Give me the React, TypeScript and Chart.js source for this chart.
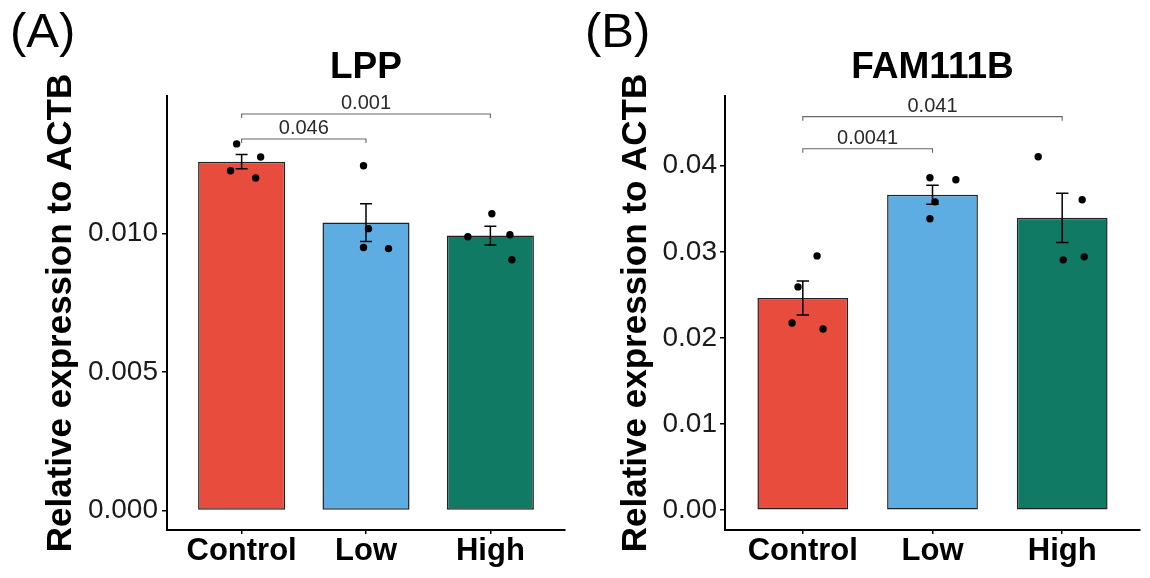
import React, { useEffect, useRef } from 'react';
import { Chart, registerables } from 'chart.js';

Chart.register(...registerables);
Chart.defaults.font.family = "'Liberation Sans', Arial, Helvetica, sans-serif";

// ---------- data ----------
const categories = ['Control', 'Low', 'High'];
const barColors = ['#E74C3C', '#5DADE2', '#117A65'];
const yAxisTitle = 'Relative expression to ACTB';

// Panel A: LPP
const lppTitle = 'LPP';
const lppMeans = [0.0126, 0.0104, 0.00993];
const lppSE = [0.00026, 0.00068, 0.00034];
const lppPoints = [
  [0.01324, 0.01277, 0.01227, 0.01201],
  [0.01245, 0.01018, 0.0095, 0.00946],
  [0.01072, 0.00989, 0.00996, 0.00906],
];
const lppJitter = [
  [-0.04, 0.153, -0.089, 0.113],
  [-0.02, 0.02, -0.02, 0.181],
  [0.012, -0.181, 0.157, 0.173],
];
const lppYTicks = [0, 0.005, 0.01];
const lppYRange = [-0.0007, 0.01497];
const lppBrackets = [
  { from: 0, to: 1, y: 0.01342, label: '0.046' },
  { from: 0, to: 2, y: 0.01432, label: '0.001' },
];

// Panel B: FAM111B
const famTitle = 'FAM111B';
const famMeans = [0.02465, 0.03663, 0.03395];
const famSE = [0.00197, 0.0011, 0.00285];
const famPoints = [
  [0.02953, 0.02593, 0.02174, 0.02105],
  [0.0386, 0.03837, 0.03581, 0.03384],
  [0.04105, 0.03605, 0.02942, 0.02907],
];
const famJitter = [
  [0.11, -0.037, -0.083, 0.156],
  [-0.02, 0.18, 0.02, -0.02],
  [-0.185, 0.154, 0.17, 0.008],
];
const famYTicks = [0, 0.01, 0.02, 0.03, 0.04];
const famYRange = [-0.0023, 0.0481];
const famBrackets = [
  { from: 0, to: 1, y: 0.04198, label: '0.0041' },
  { from: 0, to: 2, y: 0.0457, label: '0.041' },
];

type Bracket = { from: number; to: number; y: number; label: string };
type PanelCfg = {
  title: string;
  means: number[];
  se: number[];
  points: number[][];
  jitter: number[][];
  yTicks: number[];
  yRange: number[];
  decimals: number;
  brackets: Bracket[];
  yWidth: number;
  tickPad: number;
};

const panels: PanelCfg[] = [
  { title: lppTitle, means: lppMeans, se: lppSE, points: lppPoints, jitter: lppJitter, yTicks: lppYTicks, yRange: lppYRange, decimals: 3, brackets: lppBrackets, yWidth: 167, tickPad: 4 },
  { title: famTitle, means: famMeans, se: famSE, points: famPoints, jitter: famJitter, yTicks: famYTicks, yRange: famYRange, decimals: 2, brackets: famBrackets, yWidth: 150, tickPad: 3 },
];

function makeErrorBarPlugin(cfg: PanelCfg, barIndex: number) {
  return {
    id: 'errbars',
    afterDatasetDraw(chart: any, args: any) {
      if (args.index !== barIndex) return;
      const { ctx, scales } = chart;
      const xs = scales.x;
      const ys = scales.y;
      ctx.save();
      ctx.strokeStyle = '#000';
      ctx.lineWidth = 1.5;
      cfg.means.forEach((m, i) => {
        const x = xs.getPixelForValue(i);
        const half = Math.abs(xs.getPixelForValue(i + 0.048) - x);
        const yTop = ys.getPixelForValue(m + cfg.se[i]);
        const yBot = ys.getPixelForValue(m - cfg.se[i]);
        ctx.beginPath();
        ctx.moveTo(x, yTop);
        ctx.lineTo(x, yBot);
        ctx.moveTo(x - half, yTop);
        ctx.lineTo(x + half, yTop);
        ctx.moveTo(x - half, yBot);
        ctx.lineTo(x + half, yBot);
        ctx.stroke();
      });
      ctx.restore();
    },
  };
}

function makeBracketPlugin(cfg: PanelCfg) {
  return {
    id: 'brackets',
    afterDraw(chart: any) {
      const { ctx, scales } = chart;
      const xs = scales.x;
      const ys = scales.y;
      ctx.save();
      cfg.brackets.forEach((b) => {
        const x1 = xs.getPixelForValue(b.from);
        const x2 = xs.getPixelForValue(b.to);
        const y = ys.getPixelForValue(b.y);
        ctx.strokeStyle = '#666';
        ctx.lineWidth = 1.1;
        ctx.beginPath();
        ctx.moveTo(x1, y + 4);
        ctx.lineTo(x1, y);
        ctx.lineTo(x2, y);
        ctx.lineTo(x2, y + 4);
        ctx.stroke();
        ctx.fillStyle = '#2a2a2a';
        ctx.font = "20px 'Liberation Sans', Arial, sans-serif";
        ctx.textAlign = 'center';
        ctx.textBaseline = 'alphabetic';
        ctx.fillText(b.label, (x1 + x2) / 2, y - 5);
      });
      ctx.restore();
    },
  };
}

function Panel({ cfg, left, tag }: { cfg: PanelCfg; left: number; tag: string }) {
  const ref = useRef<HTMLCanvasElement>(null);
  useEffect(() => {
    if (!ref.current) return;
    const scatterData: { x: number; y: number }[] = [];
    cfg.points.forEach((arr, i) =>
      arr.forEach((v, j) => scatterData.push({ x: i + cfg.jitter[i][j], y: v }))
    );
    const chart = new Chart(ref.current, {
      type: 'bar',
      data: {
        datasets: [
          {
            type: 'scatter',
            data: scatterData,
            backgroundColor: '#000',
            borderWidth: 0,
            pointRadius: 3.7,
            pointHoverRadius: 3.7,
          } as any,
          {
            type: 'bar',
            data: cfg.means.map((m, i) => ({ x: i, y: m })),
            backgroundColor: barColors,
            borderColor: '#222',
            borderWidth: 1.5,
            borderSkipped: false,
            barPercentage: 0.7,
            categoryPercentage: 1,
          } as any,
        ],
      },
      options: {
        responsive: false,
        animation: false,
        events: [],
        layout: { padding: { left: 0, right: 10, top: 0, bottom: 0 } },
        plugins: {
          legend: { display: false },
          tooltip: { enabled: false },
          title: {
            display: true,
            text: cfg.title,
            color: '#000',
            fullSize: false,
            font: { size: 37, weight: 'bold', lineHeight: 1.2 },
            padding: { top: 46, bottom: 5.6 },
          },
        },
        scales: {
          x: {
            type: 'linear',
            min: -0.6,
            max: 2.6,
            offset: false,
            afterBuildTicks: (s: any) => {
              s.ticks = categories.map((_, i) => ({ value: i }));
            },
            afterFit: (s: any) => {
              s.height = 48;
            },
            ticks: {
              callback: (v: any) => categories[Math.round(Number(v))] ?? '',
              color: '#000',
              font: { size: 31, weight: 'bold', lineHeight: 1 },
              padding: 1.5,
              maxRotation: 0,
              autoSkip: false,
            },
            grid: { display: true, offset: false, drawOnChartArea: false, drawTicks: true, tickLength: 4, color: '#000', lineWidth: 1.5 },
            border: { display: true, color: '#000', width: 2 },
          },
          y: {
            type: 'linear',
            min: cfg.yRange[0],
            max: cfg.yRange[1],
            afterBuildTicks: (s: any) => {
              s.ticks = cfg.yTicks.map((v) => ({ value: v }));
            },
            afterFit: (s: any) => {
              s.width = cfg.yWidth;
            },
            ticks: {
              callback: (v: any) => Number(v).toFixed(cfg.decimals),
              color: '#1a1a1a',
              font: { size: 28 },
              padding: cfg.tickPad,
            },
            grid: { display: true, drawOnChartArea: false, drawTicks: true, tickLength: 5, color: '#000', lineWidth: 1.5 },
            border: { display: true, color: '#000', width: 2 },
            title: {
              display: true,
              text: yAxisTitle,
              color: '#000',
              font: { size: 35, weight: 'bold', lineHeight: 1.2 },
              padding: { top: 40, bottom: 0 },
            },
          },
        },
      } as any,
      plugins: [makeErrorBarPlugin(cfg, 1), makeBracketPlugin(cfg)],
    });
    return () => chart.destroy();
  }, [cfg]);
  return (
    <div style={{ position: 'absolute', left, top: 0, width: 575, height: 578 }}>
      <canvas ref={ref} width={575} height={578} style={{ width: 575, height: 578, display: 'block' }} />
      <div
        style={{
          position: 'absolute',
          left: 10,
          top: 6,
          fontFamily: "'Liberation Sans', Arial, sans-serif",
          fontSize: 49,
          lineHeight: 1,
          color: '#000',
        }}
      >
        {tag}
      </div>
    </div>
  );
}

export default function App() {
  return (
    <div style={{ position: 'absolute', left: 0, top: 0, width: 1150, height: 578, background: '#fff', overflow: 'hidden' }}>
      <Panel cfg={panels[0]} left={0} tag="(A)" />
      <Panel cfg={panels[1]} left={575} tag="(B)" />
    </div>
  );
}
